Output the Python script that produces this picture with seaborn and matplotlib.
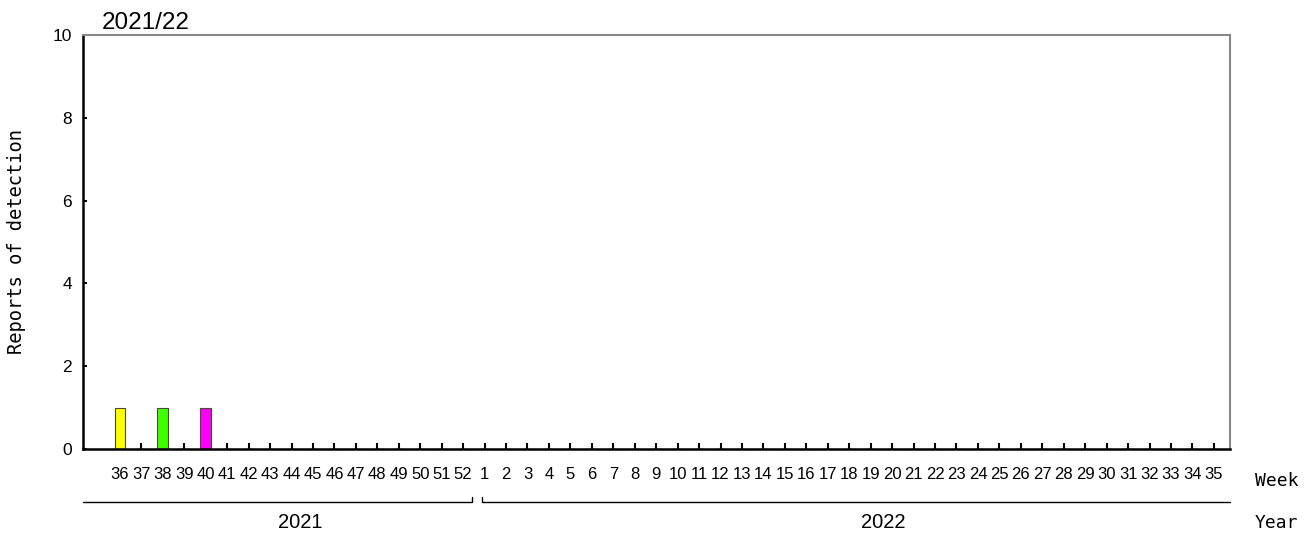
import matplotlib
matplotlib.use("Agg")
import matplotlib.pyplot as plt
import matplotlib.transforms as mtransforms
import seaborn as sns
import pandas as pd

# ---- data ----
weeks = [str(w) for w in list(range(36, 53)) + list(range(1, 36))]
series_yellow = [1] + [0] * 51
series_green = [0, 0, 1] + [0] * 49
series_magenta = [0, 0, 0, 0, 1] + [0] * 47
series_names = ["A", "B", "C"]
series_colors = ["#FFFF00", "#40FF00", "#FF00FF"]
year_labels = ["2021", "2022"]
title_text = "2021/22"
y_ticks = [0, 2, 4, 6, 8, 10]

rows = []
for name, vals in zip(series_names, [series_yellow, series_green, series_magenta]):
    for w, v in zip(weeks, vals):
        rows.append({"week": w, "count": v, "type": name})
df = pd.DataFrame(rows)

sns.set_theme(style="white")
plt.rcParams["font.family"] = ["Liberation Sans", "DejaVu Sans"]
plt.rcParams["text.color"] = "black"
plt.rcParams["xtick.color"] = "black"
plt.rcParams["ytick.color"] = "black"
plt.rcParams["axes.labelcolor"] = "black"

fig = plt.figure(figsize=(13.11, 5.43), dpi=100)
ax = fig.add_axes([83 / 1311, 94 / 543, (1230 - 83) / 1311, (449 - 35) / 543])

sns.barplot(data=df, x="week", y="count", hue="type", order=weeks,
            hue_order=series_names, palette=dict(zip(series_names, series_colors)),
            dodge=False, width=0.5, edgecolor="#4a4a30", linewidth=0.8,
            saturation=1, legend=False, ax=ax)

ax.set_xlim(-1.72, 51.75)
ax.set_ylim(0, 10)
ax.set_yticks(y_ticks)
ax.set_yticklabels([str(t) for t in y_ticks])
ax.set_xticks(range(len(weeks)))
ax.set_xticklabels(weeks)
ax.set_xlabel("")
ax.set_ylabel("")

ax.tick_params(axis="x", direction="in", length=4, width=1.5, colors="black",
               pad=13, labelsize=12, bottom=True)
ax.tick_params(axis="y", direction="in", length=3, width=1.5, colors="black",
               pad=8, labelsize=12.5, left=True)

for s in ["left", "bottom"]:
    ax.spines[s].set_color("black")
    ax.spines[s].set_linewidth(1.8)
for s in ["top", "right"]:
    ax.spines[s].set_color("#888888")
    ax.spines[s].set_linewidth(1.5)
ax.grid(False)

# Title
ax.text(0.016, 1.002, title_text, transform=ax.transAxes, fontsize=17.5,
        ha="left", va="bottom", color="black")

# Y label
fig.text(17 / 1311, 1 - 242 / 543, "Reports of detection", rotation=90,
         ha="center", va="center", fontsize=13.5, family="DejaVu Sans Mono",
         color="black")

# Week / Year labels
fig.text(1255 / 1311, 1 - 481 / 543, "Week", ha="left", va="center",
         fontsize=13, family="DejaVu Sans Mono", color="black")
fig.text(1255 / 1311, 1 - 523 / 543, "Year", ha="left", va="center",
         fontsize=13, family="DejaVu Sans Mono", color="black")

# Year brackets
trans = mtransforms.blended_transform_factory(ax.transData, ax.transAxes)
yb = (449 - 502) / 414
yt = (449 - 497) / 414
ax.plot([-1.72, 16.41, 16.41], [yb, yb, yt], color="black", lw=1.0,
        transform=trans, clip_on=False)
ax.plot([16.88, 16.88, 51.75], [yt, yb, yb], color="black", lw=1.0,
        transform=trans, clip_on=False)
yl = (449 - 523) / 414
for lbl, xpos in zip(year_labels, [8.4, 35.6]):
    ax.text(xpos, yl, lbl, transform=trans, ha="center", va="center",
            fontsize=14.5, color="black")

fig.savefig("out.png", dpi=100)
